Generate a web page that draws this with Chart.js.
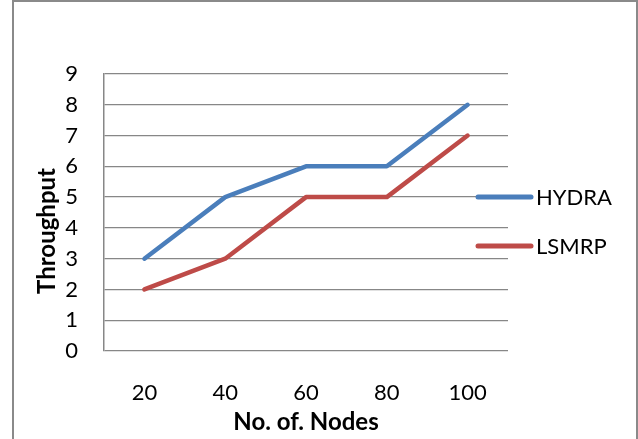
<!DOCTYPE html>
<html>
<head>
<meta charset="utf-8">
<script src="https://cdn.jsdelivr.net/npm/chart.js@4"></script>
<style>
  body { margin: 0; background: #fff; }
  #wrap { position: relative; width: 638px; height: 439px; overflow: hidden; }
  #frame {
    position: absolute; left: 12px; top: 0; width: 622px; height: 460px;
    border: 2px solid #8a8a8a; pointer-events: none;
  }
</style>
</head>
<body>
<div id="wrap">
  <canvas id="grafico" width="638" height="439"></canvas>
  <div id="frame"></div>
</div>
<script>
// datos
const nodos = ['20', '40', '60', '80', '100'];
const hydra = [3, 5, 6, 6, 8];
const lsmrp = [2, 3, 5, 5, 7];
const ticksY = [0, 1, 2, 3, 4, 5, 6, 7, 8, 9];
const tituloY = 'Throughput';

const gris = '#878787';

// leyenda al estilo excel (encima del borde derecho del area) y titulo vertical algo mas abajo
const leyenda = {
  id: 'leyenda',
  afterDraw(chart) {
    const ctx = chart.ctx;
    const filas = [197, 246];
    ctx.save();
    chart.data.datasets.forEach((ds, i) => {
      const y = filas[i];
      ctx.strokeStyle = ds.borderColor;
      ctx.lineWidth = 5;
      ctx.lineCap = 'round';
      ctx.beginPath();
      ctx.moveTo(478, y);
      ctx.lineTo(531, y);
      ctx.stroke();
      ctx.fillStyle = '#000';
      ctx.font = '22px Lato';
      ctx.textBaseline = 'middle';
      ctx.textAlign = 'left';
      ctx.fillText(ds.label, 536, y + 1);
    });

    ctx.translate(47, 231);
    ctx.rotate(-Math.PI / 2);
    ctx.font = 'bold 24px Lato';
    ctx.textAlign = 'center';
    ctx.textBaseline = 'middle';
    ctx.fillStyle = '#000';
    ctx.fillText(tituloY, 0, 0);
    ctx.restore();
  }
};

new Chart(document.getElementById('grafico'), {
  type: 'line',
  data: {
    labels: nodos,
    datasets: [
      {
        label: 'HYDRA',
        data: hydra,
        borderColor: '#4a7ebb',
        borderWidth: 4.5,
        pointRadius: 0,
        tension: 0,
        borderCapStyle: 'round',
        borderJoinStyle: 'round'
      },
      {
        label: 'LSMRP',
        data: lsmrp,
        borderColor: '#be4b48',
        borderWidth: 4.5,
        pointRadius: 0,
        tension: 0,
        borderCapStyle: 'round',
        borderJoinStyle: 'round'
      }
    ]
  },
  options: {
    responsive: false,
    animation: false,
    devicePixelRatio: 1,
    layout: { padding: { top: 74, right: 130, bottom: 0, left: 0 } },
    plugins: {
      legend: { display: false },
      tooltip: { enabled: false }
    },
    scales: {
      x: {
        offset: true,
        grid: { display: false, drawTicks: false },
        border: { display: false },
        ticks: { color: '#000', font: { family: 'Lato', size: 22 }, padding: 29 },
        title: {
          display: true,
          text: 'No. of. Nodes',
          color: '#000',
          font: { family: 'Lato', size: 24, weight: 'bold' },
          padding: { top: 0, bottom: 2 }
        },
        afterFit: (scale) => { scale.height = 88; }
      },
      y: {
        min: 0,
        max: 9,
        afterBuildTicks: (scale) => { scale.ticks = ticksY.map(v => ({ value: v })); },
        grid: { color: gris, lineWidth: 1.3, drawTicks: false },
        border: { display: true, color: gris, width: 1.5 },
        ticks: { color: '#000', font: { family: 'Lato', size: 22 }, padding: 26 },
        title: { display: false },
        afterFit: (scale) => { scale.width = 104; }
      }
    }
  },
  plugins: [leyenda]
});
</script>
</body>
</html>
